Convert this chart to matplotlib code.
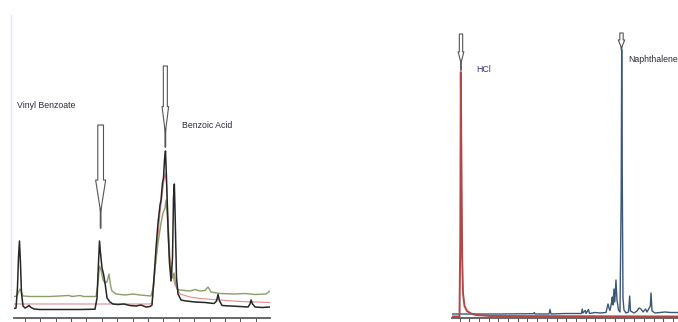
"""Two chromatogram panels with hollow arrows marking the peaks of interest."""

import matplotlib
matplotlib.use("Agg")
import matplotlib.pyplot as plt
from matplotlib.lines import Line2D
from matplotlib.ticker import MultipleLocator

plt.rcParams["font.family"] = ["Liberation Sans", "DejaVu Sans"]

# left panel: retention time (min) and response for three overlaid runs
black_t = [0.260, 0.286, 0.305, 0.318, 0.331, 0.344, 0.357, 0.377, 0.403, 0.429,
           0.455, 0.481, 0.519, 0.597, 0.857, 1.117, 1.312, 1.338, 1.357, 1.370,
           1.383, 1.403, 1.422, 1.442, 1.468, 1.506, 1.545, 1.610, 1.688, 1.766,
           1.844, 1.909, 1.974, 2.026, 2.052, 2.078, 2.104, 2.130, 2.156, 2.169,
           2.188, 2.201, 2.214, 2.227, 2.240, 2.260, 2.279, 2.299, 2.318, 2.331,
           2.342, 2.353, 2.370, 2.390, 2.429, 2.494, 2.610, 2.740, 2.857, 2.890,
           2.909, 2.929, 2.961, 3.065, 3.195, 3.299, 3.325, 3.338, 3.357, 3.390,
           3.481, 3.584]
black_y = [9.5, 10, 30, 60, 77, 55, 25, 12, 10, 11,
           12.5, 10.5, 9, 8.5, 8.5, 8.5, 8.8, 20, 55, 77,
           65, 50, 44, 35, 20, 16, 14, 13.5, 14, 12.5,
           12, 13, 11, 11.5, 13, 40, 70, 95, 113, 118,
           135, 140, 158, 167, 140, 90, 55, 37, 60, 120,
           134, 100, 40, 24, 18, 17, 16, 15.5, 14.5, 17,
           23.5, 17, 12.5, 12, 11.5, 11, 14, 18, 14, 11,
           10.5, 11]

green_t = [0.260, 0.299, 0.325, 0.338, 0.357, 0.377, 0.468, 0.727, 0.974, 1.013,
           1.117, 1.169, 1.325, 1.351, 1.370, 1.390, 1.416, 1.442, 1.468, 1.494,
           1.513, 1.532, 1.584, 1.701, 1.805, 1.896, 2.039, 2.065, 2.091, 2.130,
           2.169, 2.195, 2.221, 2.234, 2.253, 2.273, 2.299, 2.318, 2.338, 2.357,
           2.377, 2.416, 2.545, 2.610, 2.675, 2.740, 2.779, 2.818, 2.935, 3.130,
           3.260, 3.390, 3.532, 3.584]
green_y = [21.5, 22, 27, 29, 26, 22, 21.5, 21.5, 22.5, 21.5,
           22.5, 21.5, 21.5, 35, 52, 48, 38, 35, 36, 44,
           33, 27, 24, 23, 24, 23, 22, 30, 50, 75,
           95, 105, 110, 118, 100, 65, 44, 40, 45, 35,
           29, 28, 27, 28.5, 27, 27.5, 31, 26, 24.5, 24,
           24.5, 23.5, 24, 27]

red_t = [0.260, 2.026, 2.052, 2.078, 2.117, 2.156, 2.195, 2.221, 2.240, 2.260,
         2.286, 2.312, 2.351, 2.416, 2.545, 2.675, 2.935, 3.195, 3.584]
red_y = [14, 14, 15, 35, 70, 105, 130, 145, 135, 100,
         60, 45, 33, 24, 21, 19.5, 18, 16.5, 15.5]

# right panel: HCl run (red) and naphthalene run (blue)
hcl_t = [1.287, 1.596, 1.629, 1.650, 1.678, 1.707, 1.740, 1.802, 1.905, 2.070,
         2.276, 2.854, 10.607]
hcl_y = [1.5, 1.5, 80, 246, 150, 60, 25, 12, 7, 4.5,
         3, 2, 1.5]

naph_t = [1.287, 3.262, 4.647, 4.680, 4.709, 5.287, 5.328, 5.369, 5.947, 6.627,
          6.660, 6.689, 6.784, 6.813, 6.916, 6.958, 7.184, 7.390, 7.637, 7.720,
          7.761, 7.802, 7.864, 7.897, 7.926, 7.967, 8.000, 8.049, 8.091, 8.153,
          8.214, 8.264, 8.285, 8.309, 8.338, 8.379, 8.462, 8.565, 8.615, 8.648,
          8.792, 8.916, 8.998, 9.081, 9.164, 9.267, 9.329, 9.466, 9.495, 9.536,
          9.660, 9.866, 10.072, 10.279, 10.607]
naph_y = [4, 4, 4.3, 5.5, 4, 4, 8.5, 4, 4.5, 4.5,
          9, 5, 7.5, 4.5, 8.5, 4.5, 5.5, 5, 5.5, 14,
          10, 7.5, 15, 21, 13, 29, 16, 38, 18, 8,
          6, 120, 268, 140, 20, 8, 5, 6, 22, 7,
          5, 7, 10, 9, 6, 9, 6, 12, 25, 7,
          5, 5.5, 6, 5.5, 5.5]

# labelled peaks: (label, arrow x, tail y, tip y, stem end y, text x, text y)
left_marks = [
    ("Vinyl Benzoate", 1.385, 193, 106, 90, 0.305, 212),
    ("Benzoic Acid", 2.225, 252, 185, 171, 2.442, 192),
]
right_marks = [
    ("HCl", 1.658, 284, 255, 248, 2.276, 248),
    ("Naphthalene", 8.277, 285, 270, 268, 8.557, 259),
]
# arrow sizes in points: head length, head width, tail width
left_sizes = [(23, 7.2, 4.1), (19, 4.7, 2.9)]
right_sizes = [(8, 4.1, 2.4), (5.8, 4.6, 2.4)]
right_text_colors = ["#38307a", "#2b2b3b"]


def style_axis(ax, xlim, major, minor):
    ax.set_xlim(*xlim)
    ax.set_ylim(0, 303)
    for side in ("top", "right", "left"):
        ax.spines[side].set_visible(False)
    ax.spines["bottom"].set_color("#5a5a5a")
    ax.spines["bottom"].set_linewidth(1.3)
    ax.set_yticks([])
    ax.xaxis.set_major_locator(MultipleLocator(major))
    ax.xaxis.set_minor_locator(MultipleLocator(minor))
    ax.tick_params(axis="x", which="major", direction="out", length=3.2,
                   width=0.8, color="#555555", labelbottom=False)
    ax.tick_params(axis="x", which="minor", direction="out", length=2.6,
                   width=0.7, color="#555555")
    ax.patch.set_alpha(0)


def mark_peak(ax, mark, size, color="#2b2b3b"):
    label, x, tail, tip, stem, tx, ty = mark
    head_len, head_w, tail_w = size
    ax.annotate("", xy=(x, stem), xytext=(x, tip + 4),
                arrowprops=dict(arrowstyle="-", color="#555555", lw=1.3,
                                shrinkA=0, shrinkB=0))
    ax.annotate("", xy=(x, tip), xytext=(x, tail),
                arrowprops=dict(
                    arrowstyle=f"simple,head_length={head_len},"
                               f"head_width={head_w},tail_width={tail_w}",
                    mutation_scale=1, fc="white", ec="#555555", lw=0.8,
                    shrinkA=0, shrinkB=0))
    ax.text(tx, ty, label, fontsize=6.3, color=color, ha="left", va="center")


fig = plt.figure(figsize=(6.78, 3.22), dpi=100)

ax1 = fig.add_axes([14 / 678, 4 / 322, 256 / 678, 303 / 322])
style_axis(ax1, (0.260, 3.584), 1.0, 0.2)
ax1.plot(red_t, red_y, color="#e48a8a", lw=0.8)
ax1.plot(green_t, green_y, color="#8c9c6c", lw=1.0)
ax1.plot(black_t, black_y, color="#262626", lw=1.1)
for mark, size in zip(left_marks, left_sizes):
    mark_peak(ax1, mark, size)

ax2 = fig.add_axes([452 / 678, 4 / 322, 226 / 678, 303 / 322])
style_axis(ax2, (1.287, 10.607), 2.0, 0.4)
ax2.plot(naph_t, naph_y, color="#3a5878", lw=1.0)
ax2.plot(hcl_t, hcl_y, color="#b04848", lw=1.4)
for mark, size, col in zip(right_marks, right_sizes, right_text_colors):
    mark_peak(ax2, mark, size, col)

# faint vertical frame line at the left edge
fig.add_artist(Line2D([11 / 678, 11 / 678], [22 / 322, 307 / 322],
                      color="#e2e9f6", lw=1.0))

fig.savefig("out.png", dpi=100)
